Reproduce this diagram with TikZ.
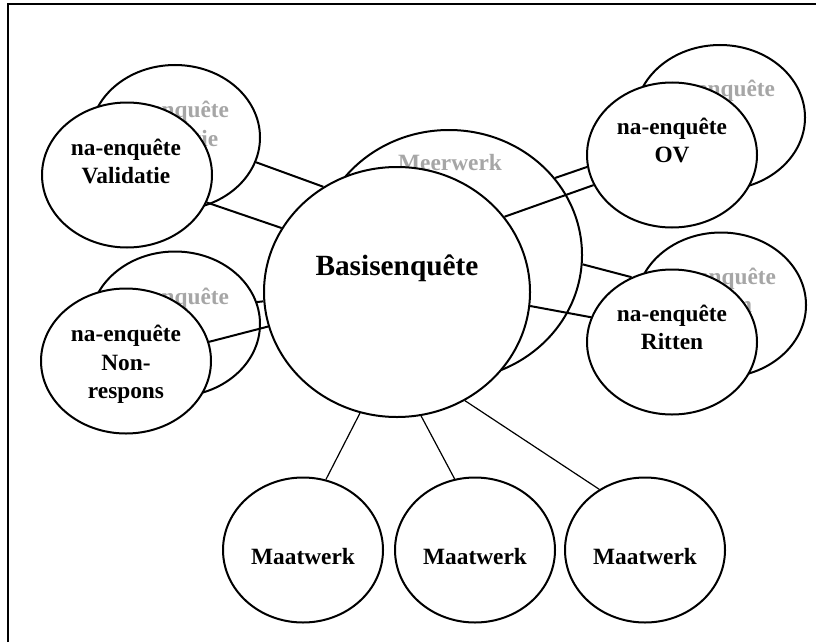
\documentclass[tikz,border=0pt]{standalone}
\usepackage{fontspec}
\setmainfont{Liberation Serif}
\usetikzlibrary{shapes.geometric}

\begin{document}
\begin{tikzpicture}[
        x=0.75pt, y=-0.75pt,
        bubble/.style={draw, ellipse, line width=1.5pt, fill=white, inner sep=0pt, minimum width=127.5pt, minimum height=108.75pt},
        big/.style={bubble, minimum width=199.5pt, minimum height=187.5pt},
        maat/.style={bubble, minimum width=120pt, minimum height=108.75pt},
        txt/.style={font=\fontsize{17.5}{21.4}\selectfont\bfseries, align=center, inner sep=0pt},
        bigtxt/.style={txt, font=\fontsize{22}{26}\selectfont\bfseries},
        ghost/.style={txt, text=black!35},
        link/.style={line width=1.5pt},
        thinlink/.style={line width=0.9pt}
    ]
        \useasboundingbox (0,0) rectangle (816,642);
        \draw[line width=1.5pt] (8,642) -- (8,4.5) -- (816,4.5);

        \node[big] (meer) at (449,255) {};
        \node[ghost] (meerT) at (450,163) {Meerwerk};
        \node[bubble] (valB) at (175,137.5) {};
        \node[ghost] (valBT) at (174,124) {na-enquête\\Validatie};
        \node[bubble] (nonB) at (175,324) {};
        \node[ghost] (nonBT) at (174,327) {na-enquête\\Non-\\respons};
        \node[bubble] (ovB) at (720,117.5) {};
        \node[ghost] (ovBT) at (720,103) {na-enquête\\OV};
        \node[bubble] (ritB) at (721,305) {};
        \node[ghost] (ritBT) at (721,290.5) {na-enquête\\Ritten};

        \node[big] (basis) at (397,292) {};
        \node[bigtxt] (basisT) at (397,268.5) {Basisenquête};
        \node[bubble] (valF) at (127,175) {};
        \node[txt] (valFT) at (126,161.5) {na-enquête\\Validatie};
        \node[bubble] (nonF) at (126,361) {};
        \node[txt] (nonFT) at (126,364.5) {na-enquête\\Non-\\respons};
        \node[bubble] (ovF) at (672,155) {};
        \node[txt] (ovFT) at (672,140.5) {na-enquête\\OV};
        \node[bubble] (ritF) at (672,342) {};
        \node[txt] (ritFT) at (672,327.5) {na-enquête\\Ritten};

        \node[maat] (maat1) at (303,550) {};
        \node[txt] (maat1T) at (303,557) {Maatwerk};
        \node[maat] (maat2) at (475,550) {};
        \node[txt] (maat2T) at (475,557) {Maatwerk};
        \node[maat] (maat3) at (645,550) {};
        \node[txt] (maat3T) at (645,557) {Maatwerk};

        \draw[link] (valB.-17) -- (basis.125);
        \draw[link] (valF.-19) -- (basis.151);
        \draw[link] (nonB.15) -- (basis.184);
        \draw[link] (nonF.13) -- (basis.195);
        \draw[link] (meer.36) -- (ovF.188);
        \draw[link] (basis.35) -- (ovF.201);
        \draw[link] (meer.-4) -- (ritF.122);
        \draw[link] (basis.-6) -- (ritF.163);
        \draw[thinlink] (basis.253) -- (maat1.72);
        \draw[thinlink] (basis.-79) -- (maat2.106);
        \draw[thinlink] (basis.-58) -- (maat3.127);
    \end{tikzpicture}
\end{document}
